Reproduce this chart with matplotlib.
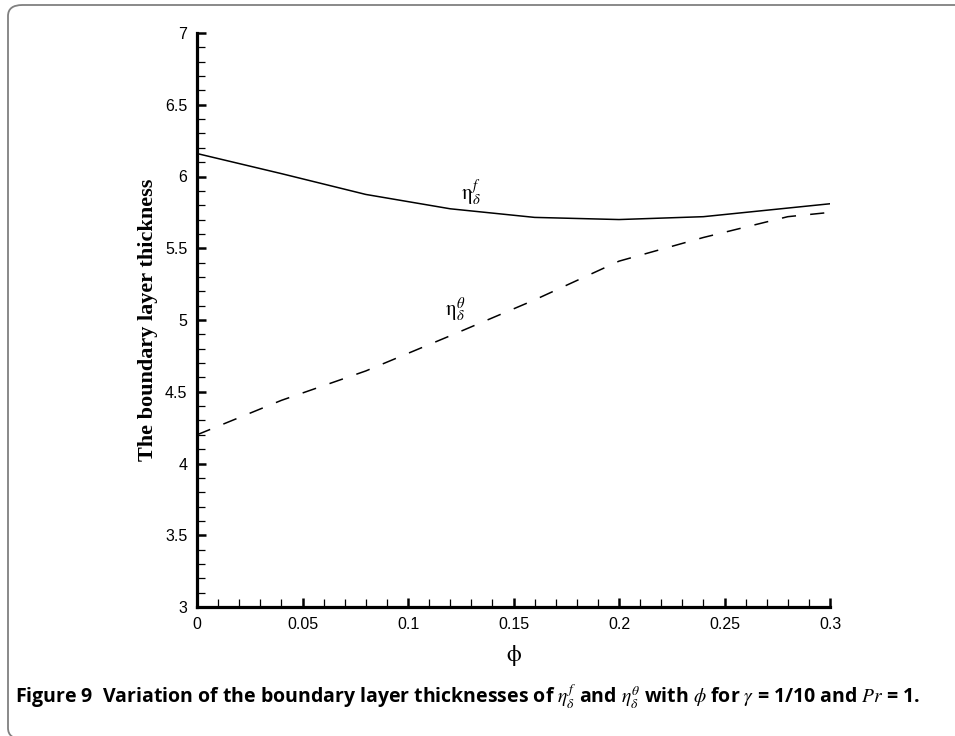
import matplotlib
matplotlib.use("Agg")
import matplotlib.pyplot as plt
from matplotlib.patches import FancyBboxPatch
from matplotlib.ticker import MultipleLocator

phi = [0.0, 0.04, 0.08, 0.12, 0.16, 0.20, 0.24, 0.28, 0.30]
eta_f = [6.16, 6.02, 5.875, 5.775, 5.715, 5.70, 5.72, 5.78, 5.81]
eta_theta = [4.20, 4.44, 4.645, 4.89, 5.14, 5.41, 5.575, 5.72, 5.75]

xticks = [0, 0.05, 0.1, 0.15, 0.2, 0.25, 0.3]
xticklabels = ["0", "0.05", "0.1", "0.15", "0.2", "0.25", "0.3"]
yticks = [3, 3.5, 4, 4.5, 5, 5.5, 6, 6.5, 7]
yticklabels = ["3", "3.5", "4", "4.5", "5", "5.5", "6", "6.5", "7"]

plt.rcParams['mathtext.fontset'] = 'stix'

W, H = 955, 736
fig = plt.figure(figsize=(W / 100, H / 100), dpi=100)
ax = fig.add_axes([197 / W, 1 - 607 / H, (830 - 197) / W, (607 - 33) / H])

ax.plot(phi, eta_f, color='black', lw=1.1)
ax.plot(phi, eta_theta, color='black', lw=1.1, dashes=(9.3, 9.3))

ax.set_xlim(0, 0.3)
ax.set_ylim(3, 7)
ax.set_xticks(xticks)
ax.set_xticklabels(xticklabels)
ax.set_yticks(yticks)
ax.set_yticklabels(yticklabels)
ax.xaxis.set_minor_locator(MultipleLocator(0.01))
ax.yaxis.set_minor_locator(MultipleLocator(0.1))

for s in ['top', 'right']:
    ax.spines[s].set_visible(False)
for s in ['left', 'bottom']:
    ax.spines[s].set_linewidth(2.3)

ax.tick_params(which='major', direction='in', length=6.5, width=1.8, pad=7,
               labelsize=11.5)
ax.tick_params(which='minor', direction='in', length=6, width=0.9)
for lab in ax.get_xticklabels() + ax.get_yticklabels():
    lab.set_fontfamily('Liberation Sans')

ax.set_ylabel("The boundary layer thickness", fontfamily='Liberation Serif',
              fontweight='bold', fontsize=16, labelpad=5)
ax.set_xlabel(r"$\mathrm{\phi}$", fontsize=17, labelpad=8)

ax.text(0.130, 5.84, r"$\mathrm{\eta}_{\delta}^{f}$", fontsize=15, ha='center')
ax.text(0.1225, 5.03, r"$\mathrm{\eta}_{\delta}^{\theta}$", fontsize=15, ha='center')

fig.text(15 / W, 1 - 697 / H,
         r"Figure 9  Variation of the boundary layer thicknesses of $\eta_{\delta}^{f}$ and $\eta_{\delta}^{\theta}$ with $\phi$ for $\gamma$ = 1/10 and $Pr$ = 1.",
         fontsize=14, fontweight='bold', fontfamily='Open Sans', va='center',
         ha='left')

box = FancyBboxPatch((8 / W, 1 - 739 / H), (990 - 8) / W, (739 - 5) / H,
                     boxstyle="round,pad=0,rounding_size=0.015",
                     transform=fig.transFigure, fill=False,
                     edgecolor='#808080', lw=1.3, clip_on=False)
fig.patches.append(box)

fig.savefig("out.png", dpi=100)
